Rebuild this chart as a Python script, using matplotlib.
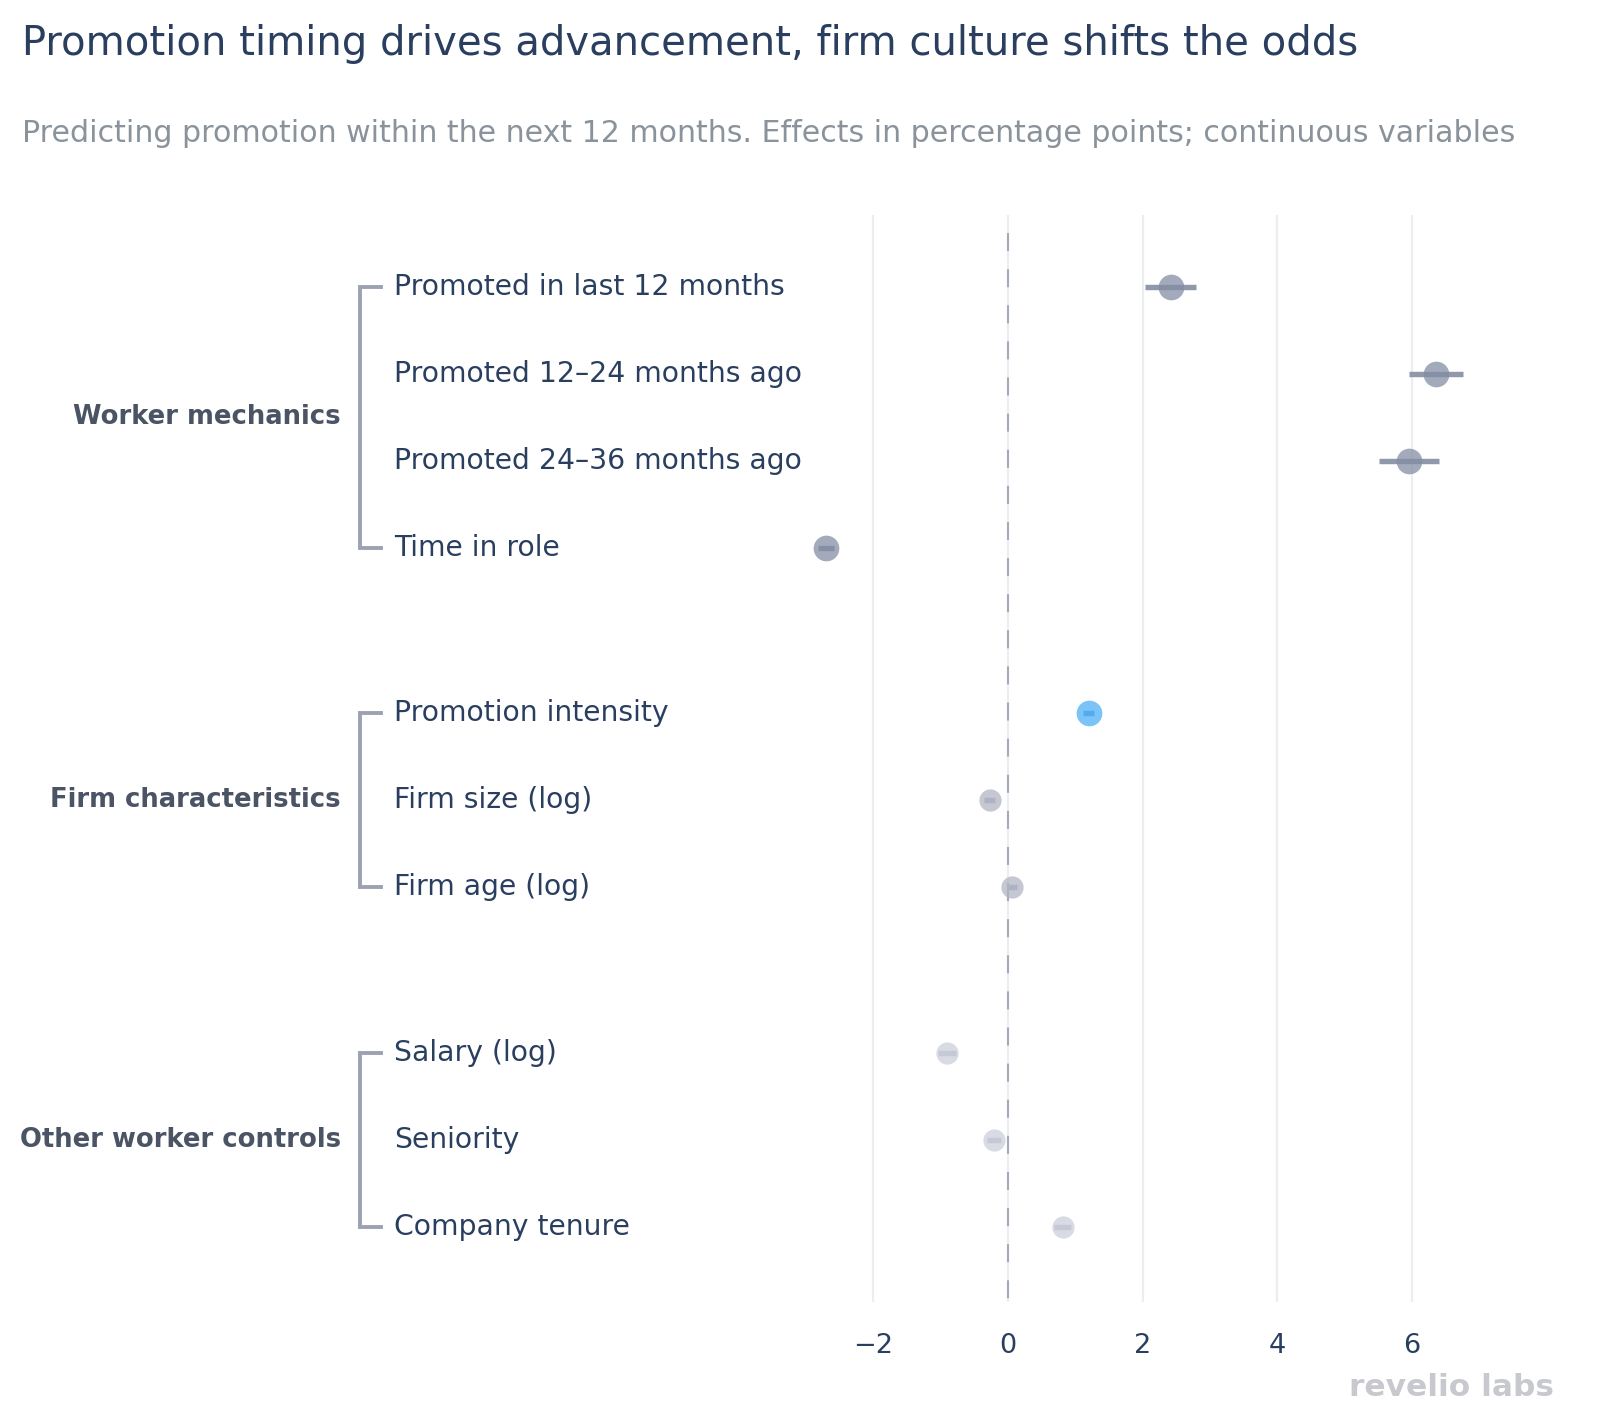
import matplotlib
matplotlib.use("Agg")
import matplotlib.pyplot as plt
import matplotlib.transforms as mtransforms
from matplotlib.lines import Line2D

plt.rcParams['font.family'] = ['DejaVu Sans']
plt.rcParams['lines.scale_dashes'] = False

# ---------------- data ----------------
groups = ["Worker mechanics", "Firm characteristics", "Other worker controls"]
group_members = [
    ["Promoted in last 12 months", "Promoted 12\u201324 months ago",
     "Promoted 24\u201336 months ago", "Time in role"],
    ["Promotion intensity", "Firm size (log)", "Firm age (log)"],
    ["Salary (log)", "Seniority", "Company tenure"],
]
estimates = [2.42, 6.36, 5.96, -2.70, 1.20, -0.27, 0.06, -0.91, -0.21, 0.81]
ci_low = [2.04, 5.96, 5.51, -2.82, 1.12, -0.35, -0.02, -1.04, -0.31, 0.69]
ci_high = [2.79, 6.76, 6.40, -2.58, 1.28, -0.19, 0.14, -0.78, -0.11, 0.93]
x_ticks = [-2, 0, 2, 4, 6]
x_tick_labels = ["\u22122", "0", "2", "4", "6"]

title = "Promotion timing drives advancement, firm culture shifts the odds"
subtitle = ("Predicting promotion within the next 12 months. Effects in percentage "
            "points; continuous variables")

# ---------------- styles ----------------
style = {
    "Worker mechanics": dict(fill="#838da3", alpha=0.74, bar="#8f99ab", size=18.5),
    "highlight": dict(fill="#4eb0f5", alpha=0.74, bar="#5a9fd8", size=18.5),
    "Firm characteristics": dict(fill="#b1b5c3", alpha=0.74, bar="#a9aebd", size=16),
    "Other worker controls": dict(fill="#cbcfda", alpha=0.74, bar="#b5b9c7", size=16),
}

W, H = 1602, 1416
fig = plt.figure(figsize=(W / 100, H / 100), dpi=100)

ax_left, ax_right = 800, 1585
ax_top, ax_bot = 215, 1302
ax = fig.add_axes([ax_left / W, 1 - ax_bot / H, (ax_right - ax_left) / W, (ax_bot - ax_top) / H])

# y positions (blank gap between groups)
ypos = []
y = 0.0
for gi, members in enumerate(group_members):
    if gi > 0:
        y += 0.9
    for mi in range(len(members)):
        ypos.append(y)
        y += 1.0

x0_px, unit_px = 1008, 67.3
ax.set_xlim((ax_left - x0_px) / unit_px, (ax_right - x0_px) / unit_px)
row0_px, row_px = 287, 87.0
ylo = ypos[-1] + (ax_bot - (row0_px + ypos[-1] * row_px)) / row_px
yhi = -(row0_px - ax_top) / row_px
ax.set_ylim(ylo, yhi)

for s in ax.spines.values():
    s.set_visible(False)
ax.set_yticks([])
ax.set_xticks(x_ticks)
ax.set_xticklabels(x_tick_labels, fontsize=19.5, color="#2a3f5f")
ax.tick_params(axis="x", length=0, pad=22)
ax.grid(axis="x", color="#ebedf1", linewidth=1.6)
ax.set_axisbelow(True)
# dashed zero reference line, drawn from the top so it starts with a gap
ax.plot([0, 0], [yhi, ylo], color="#a4aaba", linewidth=1.5,
        linestyle=(13, (13, 13)), zorder=1.5)

k = 0
for gi, members in enumerate(group_members):
    for mi, name in enumerate(members):
        st = style["highlight"] if name == "Promotion intensity" else style[groups[gi]]
        yy = ypos[k]
        ax.plot([ci_low[k], ci_high[k]], [yy, yy], color=st["bar"], linewidth=3.9,
                solid_capstyle="butt", zorder=3)
        ax.plot([estimates[k]], [yy], marker="o", markersize=st["size"],
                markerfacecolor=st["fill"], markeredgewidth=0, alpha=st["alpha"],
                linestyle="none", zorder=4)
        k += 1

# labels and brackets
trans = mtransforms.blended_transform_factory(fig.transFigure, ax.transData)
label_x = 394 / W
k = 0
for gi, members in enumerate(group_members):
    ys = []
    for mi, name in enumerate(members):
        ax.text(label_x, ypos[k], name, transform=trans, ha="left", va="center",
                fontsize=20.3, color="#2a3f5f", clip_on=False)
        ys.append(ypos[k])
        k += 1
    ytop, ybot = ys[0], ys[-1]
    bx, tx = 360 / W, 381 / W
    line = Line2D([tx, bx, bx, tx], [ytop, ytop, ybot, ybot], transform=trans,
                  color="#9ca2b2", linewidth=2.8, solid_joinstyle="miter",
                  clip_on=False)
    ax.add_line(line)
    ax.text(341 / W, (ytop + ybot) / 2, groups[gi], transform=trans, ha="right",
            va="center", fontsize=18.6, fontweight="bold", color="#4a5464", clip_on=False)

fig.text(22 / W, 1 - 44 / H, title, fontsize=28.9, color="#2a3f5f", ha="left", va="center")
fig.text(22 / W, 1 - 134 / H, subtitle, fontsize=21.6, color="#8a939b", ha="left", va="center")
fig.text(1554 / W, 1 - 1388 / H, "revelio labs", fontsize=22.5, fontweight="bold",
         color="#c8c9cf", ha="right", va="center")

fig.savefig("out.png", dpi=100)
